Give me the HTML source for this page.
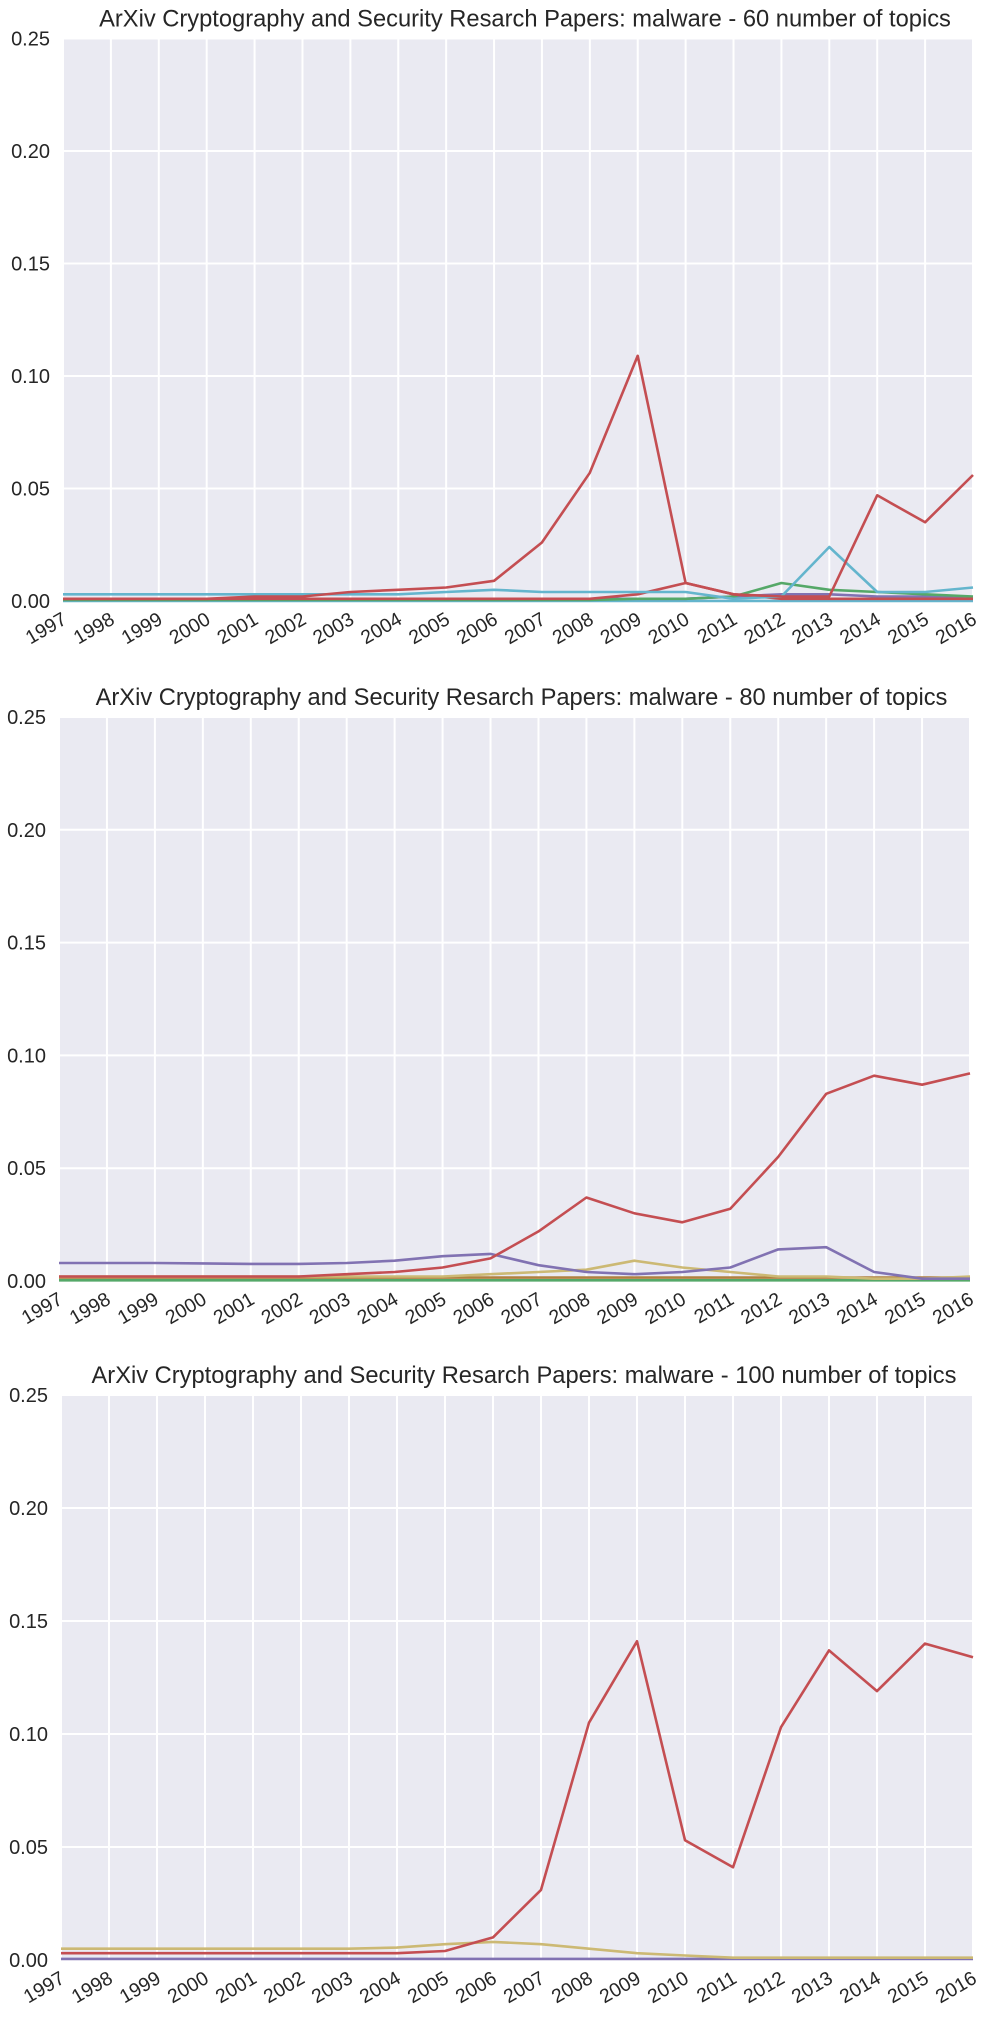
<!DOCTYPE html>
<html><head><meta charset="utf-8"><style>
html,body{margin:0;padding:0;background:#fff;}
svg{display:block;font-family:"Liberation Sans",sans-serif;}
</style></head><body>
<svg id="fig" width="991" height="2022" viewBox="0 0 991 2022" xmlns="http://www.w3.org/2000/svg"></svg>
<script>
const years = ["1997","1998","1999","2000","2001","2002","2003","2004","2005","2006","2007","2008","2009","2010","2011","2012","2013","2014","2015","2016"];
const yTicks = [0, 0.05, 0.10, 0.15, 0.20, 0.25];
const yTickLabels = ["0.00","0.05","0.10","0.15","0.20","0.25"];
const titles = [
 "ArXiv Cryptography and Security Resarch Papers: malware - 60 number of topics",
 "ArXiv Cryptography and Security Resarch Papers: malware - 80 number of topics",
 "ArXiv Cryptography and Security Resarch Papers: malware - 100 number of topics"];

// chart 1 (60 topics)
const c1Cyan0 = [0,0,0,0,0,0,0,0,0,0,0,0,0,0,0,0,0,0,0,0];
const c1Purple = [0.001,0.001,0.001,0.001,0.001,0.001,0.001,0.001,0.001,0.001,0.001,0.001,0.001,0.001,0.002,0.003,0.003,0.002,0.002,0.001];
const c1Green = [0.0005,0.0005,0.0005,0.0005,0.0005,0.0005,0.0005,0.0005,0.0005,0.0005,0.0005,0.0005,0.001,0.001,0.002,0.008,0.005,0.004,0.003,0.002];
const c1Red2 = [0.001,0.001,0.001,0.001,0.001,0.001,0.001,0.001,0.001,0.001,0.001,0.001,0.003,0.008,0.003,0.001,0.001,0.001,0.001,0.001];
const c1Cyan = [0.003,0.003,0.003,0.003,0.003,0.003,0.003,0.003,0.004,0.005,0.004,0.004,0.004,0.004,0.001,0.002,0.024,0.004,0.004,0.006];
const c1Red = [0.001,0.001,0.001,0.001,0.002,0.002,0.004,0.005,0.006,0.009,0.026,0.057,0.109,0.008,0.003,0.002,0.002,0.047,0.035,0.056];

// chart 2 (80 topics)
const c2Green = [0.0003,0.0003,0.0003,0.0003,0.0003,0.0003,0.0003,0.0003,0.0003,0.0003,0.0003,0.0003,0.0003,0.0003,0.0003,0.0003,0.0003,0.0003,0.0003,0.0003];
const c2Brown = [0.0015,0.0015,0.0015,0.0015,0.0015,0.0015,0.0015,0.0015,0.0015,0.0015,0.0015,0.0015,0.0015,0.0015,0.0015,0.0015,0.0015,0.0015,0.0015,0.0015];
const c2Yellow = [0.002,0.002,0.002,0.002,0.002,0.002,0.002,0.002,0.002,0.003,0.004,0.005,0.009,0.006,0.004,0.002,0.002,0.001,0.001,0.002];
const c2Purple = [0.008,0.008,0.008,0.0078,0.0076,0.0076,0.008,0.009,0.011,0.012,0.007,0.004,0.003,0.004,0.006,0.014,0.015,0.004,0.001,0.001];
const c2Red = [0.002,0.002,0.002,0.002,0.002,0.002,0.003,0.004,0.006,0.010,0.022,0.037,0.030,0.026,0.032,0.055,0.083,0.091,0.087,0.092];

// chart 3 (100 topics)
const c3Purple = [0.0005,0.0005,0.0005,0.0005,0.0005,0.0005,0.0005,0.0005,0.0005,0.0005,0.0005,0.0005,0.0005,0.0005,0.0005,0.0005,0.0005,0.0005,0.0005,0.0005];
const c3Yellow = [0.005,0.005,0.005,0.005,0.005,0.005,0.005,0.0055,0.007,0.008,0.007,0.005,0.003,0.002,0.001,0.001,0.001,0.001,0.001,0.001];
const c3Red = [0.003,0.003,0.003,0.003,0.003,0.003,0.003,0.003,0.004,0.010,0.031,0.105,0.141,0.053,0.041,0.103,0.137,0.119,0.140,0.134];

const NS="http://www.w3.org/2000/svg";
const svg=document.getElementById('fig');
function mk(tag,attrs,parent){const e=document.createElementNS(NS,tag);for(const k in attrs)e.setAttribute(k,attrs[k]);(parent||svg).appendChild(e);return e;}

const panels=[
 {top:38.5,bottom:601,left:63,right:973,series:[[c1Cyan0,"#64B5CD"],[c1Purple,"#8172B2"],[c1Green,"#55A868"],[c1Red2,"#C44E52"],[c1Cyan,"#64B5CD"],[c1Red,"#C44E52"]]},
 {top:717,bottom:1281,left:59,right:970,series:[[c2Green,"#55A868"],[c2Brown,"#B08040"],[c2Yellow,"#CCB974"],[c2Purple,"#8172B2"],[c2Red,"#C44E52"]]},
 {top:1395,bottom:1960,left:61,right:973,series:[[c3Purple,"#8172B2"],[c3Yellow,"#CCB974"],[c3Red,"#C44E52"]]}
];

panels.forEach((p,pi)=>{
 const g=mk('g',{});
 
 
 const xS=i=>p.left+(p.right-p.left)*i/(years.length-1);
 const yS=v=>p.bottom-(p.bottom-p.top)*v/0.25;
 const bg=mk('rect',{x:p.left,y:p.top,width:p.right-p.left,height:p.bottom-p.top,fill:"#EAEAF2"},g);
 
 
 yTicks.forEach((t,i)=>{
  const l=mk('line',{x1:p.left,x2:p.right,y1:yS(t),y2:yS(t),stroke:"#fff","stroke-width":2},g);
  
  
  const tx=mk('text',{x:p.left-13,y:yS(t)+7,"text-anchor":"end","font-size":20,fill:"#262626"},g);
  tx.textContent=yTickLabels[i];
  
  
 });
 years.forEach((yr,i)=>{
  const l=mk('line',{x1:xS(i),x2:xS(i),y1:p.top,y2:p.bottom,stroke:"#fff","stroke-width":2},g);
  
  
  const tx=mk('text',{x:0,y:0,"text-anchor":"end","font-size":19.5,fill:"#262626",transform:`translate(${xS(i)+5},${p.bottom+22}) rotate(-30)`},g);
  tx.textContent=yr;
  
  
 });
 p.series.forEach((s,si)=>{
  const pts=s[0].map((v,i)=>xS(i).toFixed(1)+","+yS(v).toFixed(1)).join(" ");
  const pl=mk('polyline',{points:pts,fill:"none",stroke:s[1],"stroke-width":2.6,"stroke-linejoin":"round"},g);
  
  
 });
 const t=mk('text',{x:(p.left+p.right)/2+7,y:p.top-12,"text-anchor":"middle","font-size":23.7,fill:"#262626"},g);
 t.textContent=titles[pi];
 
 
});
</script>
</body></html>
